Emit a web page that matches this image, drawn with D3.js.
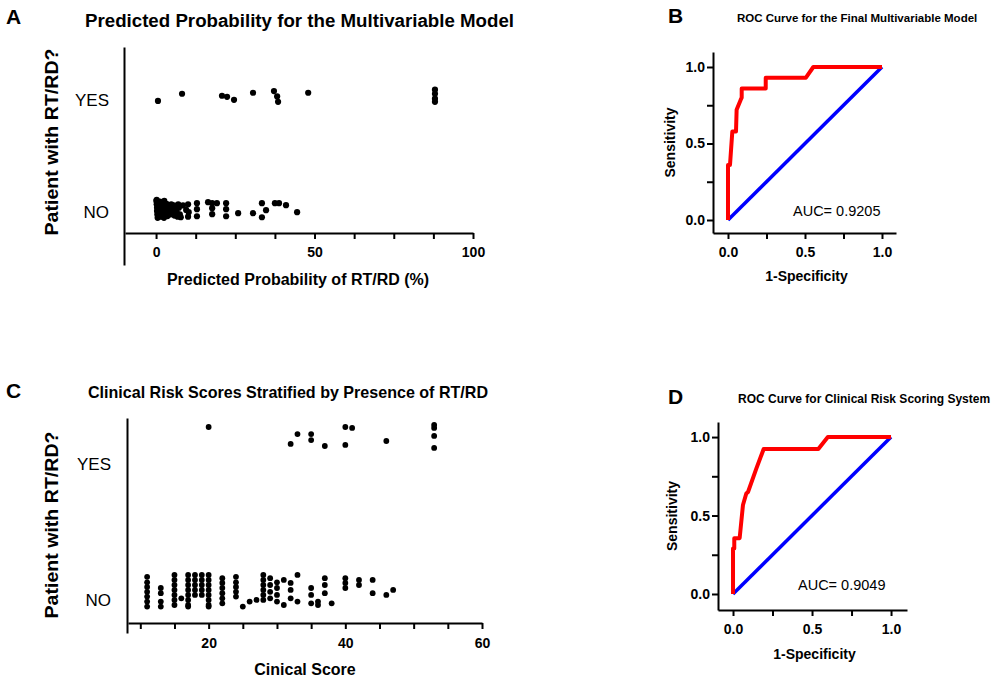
<!DOCTYPE html>
<html><head><meta charset="utf-8">
<script src="https://cdn.jsdelivr.net/npm/d3@7"></script>
<style>
body{margin:0;background:#fff}
svg text{font-family:"Liberation Sans",Arial,sans-serif}
</style>
</head><body>
<svg id="c" width="1004" height="681" style="background:#fff"></svg>
<script>
// ---------- DATA ----------
const categories = ["NO", "YES"];   // 0 = NO, 1 = YES

// Panel A: predicted probability (%) and category position (with jitter)
const probYes = [[0.6,0.99],[8.2,1.054],[20.8,1.036],[22.4,1.027],[24.6,1.0],[30.6,1.063],[37.2,1.078],[38.2,1.03],[38.5,0.982],[48,1.063],[88,1.09],[88,1.054],[88,1.01],[88,0.982]];
const probNo = [
 [0.1,0.10],[0.2,0.07],[0.3,0.04],[0.3,0.01],[0.4,-0.02],[0.5,-0.05],[0.2,0.11],[0.6,0.085],[0.8,0.055],[0.9,0.025],[1.0,-0.005],[1.1,-0.035],
 [1.2,0.095],[1.4,0.065],[1.5,0.03],[1.6,0.0],[1.7,-0.04],[1.9,0.08],[2.0,0.045],[2.2,0.015],[2.3,-0.02],[2.5,-0.05],[2.6,0.1],[2.8,0.06],
 [3.0,0.03],[3.1,-0.01],[3.3,0.075],[3.5,0.04],[3.6,-0.035],[4.0,0.06],[4.2,0.02],[4.4,-0.02],[4.8,0.07],[5.0,0.035],[5.3,0.0],[5.6,0.06],
 [5.8,-0.03],[6.2,0.03],[6.5,0.0],[6.8,-0.04],[7.0,0.07],[7.2,0.04],[7.5,-0.02],[7.8,-0.045],[8.5,0.06],[9.5,0.02],[10.1,0.07],[10.3,0.0],[10.1,-0.04],
 [12.9,0.08],[12.9,0.027],[12.9,-0.036],[16.4,0.089],[17.7,0.08],[17.7,0.036],[17.7,-0.018],[19.2,0.08],[22.1,0.08],[22.1,0.027],[22.1,-0.036],
 [25.9,-0.009],[30.6,-0.009],[33.4,0.08],[33.4,-0.045],[34.7,0.018],[37.5,0.08],[38.8,0.08],[41,0.0625],[44.5,0.0]
];

// Panel B: ROC of final multivariable model
const rocModelFpr = [0,0,0.013,0.028,0.052,0.056,0.082,0.089,0.089,0.245,0.245,0.506,0.554,1];
const rocModelTpr = [0,0.36,0.36,0.578,0.578,0.72,0.785,0.80,0.86,0.86,0.93,0.93,1,1];
const aucModel = "0.9205";

// Panel C: clinical score and category position (with jitter)
const scoreYes = [[20,1.272],[32,1.147],[33,1.22],[35,1.22],[35,1.176],[37,1.132],[40,1.272],[40,1.14],[41,1.265],[46,1.169],[53,1.287],[53,1.265],[53,1.206],[53,1.118]];
const scoreNoColumns = [
 [11,[0.17,0.13,0.096,0.06,0.025,-0.012,-0.049]],
 [13,[0.088,0.05,-0.012,-0.049]],
 [15,[0.184,0.147,0.11,0.074,0.037,0,-0.037]],
 [16,[0.012]],
 [17,[0.184,0.147,0.11,0.074,0.037,0,-0.037,-0.049]],
 [18,[0.184,0.147,0.11,0.074,0.037]],
 [19,[0.184,0.147,0.11,0.074,0.037]],
 [20,[0.184,0.147,0.11,0.074,0.037,0,-0.037,-0.049]],
 [22,[0.16,0.125,0.088,0.05,0.012,-0.025]],
 [24,[0.17,0.13,0.096,0.06,0.025]],
 [25,[-0.049]],[26,[-0.012]],[27,[0]],
 [28,[0.184,0.147,0.11,0.074,0.037,0]],
 [29,[0.16,0.11,0.06,0.012]],
 [30,[0.13,0.088,0.037,-0.012]],
 [31,[0.147,-0.037]],
 [32,[0.125,0.074,0.012]],
 [33,[0.184,-0.012]],
 [35,[0.088,0.037,-0.025]],
 [36,[-0.012,-0.037]],
 [37,[0.16,0.11,0.05]],
 [38,[-0.025]],
 [40,[0.16,0.125,0.088]],
 [42,[0.147,0.11]],
 [44,[0.147,0.05]],
 [46,[0.037]],
 [47,[0.074]]
];

// Panel D: ROC of clinical risk scoring system
const rocScoreFpr = [0,0,0.008,0.008,0.042,0.063,0.084,0.095,0.148,0.194,0.54,0.6,1];
const rocScoreTpr = [0,0.29,0.29,0.356,0.356,0.567,0.64,0.65,0.8,0.924,0.924,1,1];
const aucScore = "0.9049";

// Tick labels
const probTicks = [0,12.5,25,37.5,50,62.5,75,87.5,100];
const probLabels = [0,50,100];
const scoreTicks = [10,15,20,25,30,35,40,45,50,55,60];
const scoreLabels = [20,40,60];
const rocTicks = [0,0.25,0.5,0.75,1];
const rocLabels = [0,0.5,1];

// ---------- DRAW ----------
const svg = d3.select("#c");
const FONT = '"Liberation Sans",Arial,sans-serif';

function styleAxis(g, fs, bold){
  g.attr("font-family", FONT).attr("font-size", fs).attr("font-weight", bold ? "bold" : "normal");
  g.selectAll("path,line").attr("stroke","#000").attr("stroke-width",2);
  g.selectAll("text").attr("fill","#000");
}
function label(x,y,txt,fs,bold,anchor,rot,len){
  const t = svg.append("text").attr("x",x).attr("y",y).text(txt)
    .attr("font-family",FONT).attr("font-size",fs).attr("font-weight",bold?"bold":"normal")
    .attr("text-anchor",anchor||"start").attr("fill","#000");
  if(len) t.attr("textLength",len).attr("lengthAdjust","spacingAndGlyphs");
  if(rot) t.attr("transform",`rotate(${rot},${x},${y})`);
  return t;
}

// ----- Panel A -----
{
  const x = d3.scaleLinear().domain([-9.8,100]).range([125,473]);
  const y = d3.scaleLinear().domain([-0.47,1.47]).range([265,47]);
  const gx = svg.append("g").attr("transform",`translate(0,${233})`)
    .call(d3.axisBottom(x).tickValues(probTicks).tickSize(6).tickSizeOuter(0).tickPadding(8)
      .tickFormat(d => probLabels.includes(d) ? d : ""));
  styleAxis(gx,14,true);
  const gy = svg.append("g").attr("transform",`translate(${x.range()[0]-1},0)`)
    .call(d3.axisLeft(y).tickValues([0,1]).tickSize(0).tickSizeOuter(0).tickPadding(15)
      .tickFormat(i => categories[i]));
  styleAxis(gy,17,false);
  svg.append("g").selectAll("circle").data(probNo.concat(probYes)).join("circle")
    .attr("cx",d=>x(d[0])).attr("cy",d=>y(d[1])).attr("r",3.1).attr("fill","#000");
  label(85,27,"Predicted Probability for the Multivariable Model",18,true,"start",0,429);
  label(6,24,"A",21,true);
  label(298,285,"Predicted Probability of RT/RD (%)",16,true,"middle");
  label(58,142,"Patient with RT/RD?",18,true,"middle",-90,187);
}

// ----- Panel C -----
{
  const x = d3.scaleLinear().domain([8.2,60]).range([128,482]);
  const y = d3.scaleLinear().domain([-0.243,1.338]).range([633,418]);
  const gx = svg.append("g").attr("transform",`translate(0,${623})`)
    .call(d3.axisBottom(x).tickValues(scoreTicks).tickSize(6).tickSizeOuter(0).tickPadding(9)
      .tickFormat(d => scoreLabels.includes(d) ? d : ""));
  styleAxis(gx,14,true);
  const gy = svg.append("g").attr("transform",`translate(${x.range()[0]-1},0)`)
    .call(d3.axisLeft(y).tickValues([0,1]).tickSize(0).tickSizeOuter(0).tickPadding(16)
      .tickFormat(i => categories[i]));
  styleAxis(gy,17,false);
  const noPts = scoreNoColumns.flatMap(([s,ys]) => ys.map(v => [s,v]));
  svg.append("g").selectAll("circle").data(noPts.concat(scoreYes)).join("circle")
    .attr("cx",d=>x(d[0])).attr("cy",d=>y(d[1])).attr("r",2.9).attr("fill","#000");
  label(88,398,"Clinical Risk Scores Stratified by Presence of RT/RD",17,true,"start",0,400);
  label(6,398,"C",21,true);
  label(305,675,"Cinical Score",16,true,"middle");
  label(58,525,"Patient with RT/RD?",18,true,"middle",-90,187);
}

// ----- ROC panels -----
function rocPanel(opt){
  const x = d3.scaleLinear().domain(opt.xd).range(opt.xr);
  const y = d3.scaleLinear().domain(opt.yd).range(opt.yr);
  const gx = svg.append("g").attr("transform",`translate(0,${opt.yr[0]})`)
    .call(d3.axisBottom(x).tickValues(rocTicks).tickSize(6).tickSizeOuter(0).tickPadding(8)
      .tickFormat(d => rocLabels.includes(d) ? d3.format(".1f")(d) : ""));
  styleAxis(gx,14,true);
  const gy = svg.append("g").attr("transform",`translate(${opt.xr[0]},0)`)
    .call(d3.axisLeft(y).tickValues(rocTicks).tickSize(6).tickSizeOuter(0).tickPadding(2)
      .tickFormat(d => rocLabels.includes(d) ? d3.format(".1f")(d) : ""));
  styleAxis(gy,14,true);
  const line = d3.line().x(d=>x(d[0])).y(d=>y(d[1]));
  svg.append("path").attr("d",line([[0,0],[1,1]])).attr("fill","none").attr("stroke","#0000ff").attr("stroke-width",3.5);
  svg.append("path").attr("d",line(opt.fpr.map((f,i)=>[f,opt.tpr[i]])))
    .attr("fill","none").attr("stroke","#ff0000").attr("stroke-width",4).attr("stroke-linejoin","round");
  label(opt.aucX,opt.aucY,"AUC= "+opt.auc,14.5,false);
  label(opt.tx,opt.ty,opt.title,opt.tfs,true);
  label(668,opt.ty+1,opt.letter,21,true);
  label((opt.xr[0]+opt.xr[1])/2+2,opt.xtY,"1-Specificity",14,true,"middle");
  label(opt.ytX,(opt.yr[0]+opt.yr[1])/2+0,"Sensitivity",14,true,"middle",-90);
}
rocPanel({xd:[-0.0974,1.091],xr:[713,896],yd:[-0.085,1.098],yr:[233,52],
  fpr:rocModelFpr,tpr:rocModelTpr,auc:aucModel,aucX:793,aucY:216,
  title:"ROC Curve for the Final Multivariable Model",tx:737,ty:22,tfs:11.5,letter:"B",xtY:281,ytX:675});
rocPanel({xd:[-0.095,1.101],xr:[718,907],yd:[-0.102,1.096],yr:[610,422],
  fpr:rocScoreFpr,tpr:rocScoreTpr,auc:aucScore,aucX:798,aucY:590,
  title:"ROC Curve for Clinical Risk Scoring System",tx:738,ty:403,tfs:12,letter:"D",xtY:659,ytX:677});
</script>
</body></html>
